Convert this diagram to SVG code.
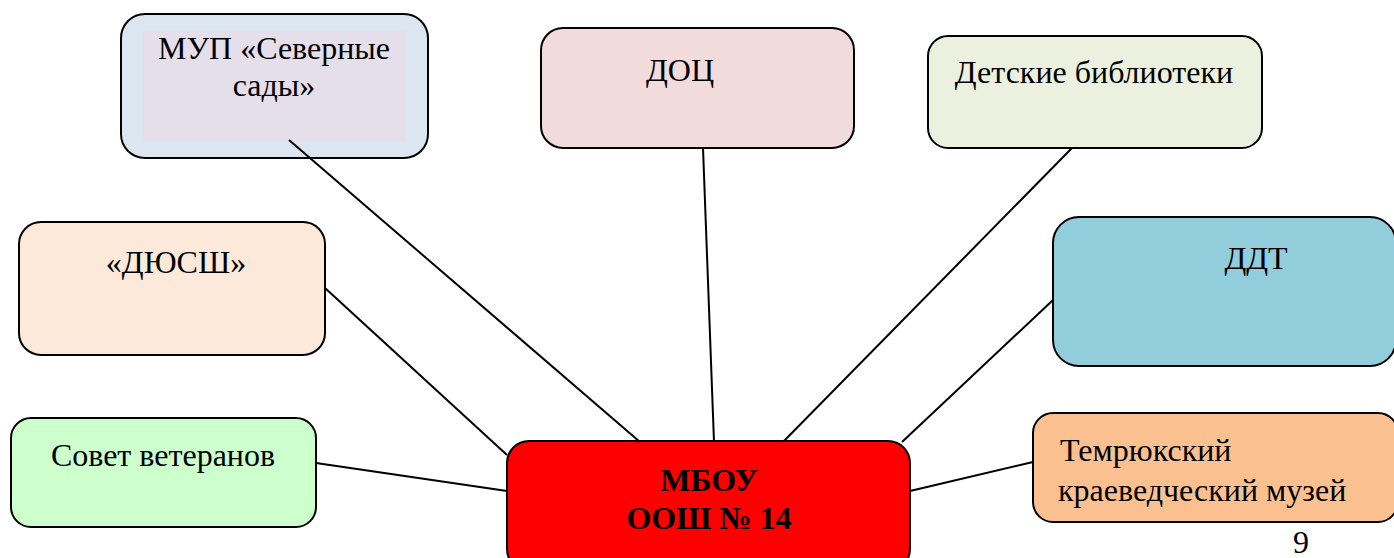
<svg xmlns="http://www.w3.org/2000/svg" width="1394" height="558" viewBox="0 0 1394 558">
<style>
.box{stroke:#000;stroke-width:2}
.t{font-family:"Liberation Serif","Times New Roman",serif;font-size:32px;fill:#000}
.b{font-weight:bold}
.c line{stroke:#000;stroke-width:2}
</style>
<rect width="1394" height="558" fill="#fff"/>
<g id="mup">
<rect class="box" x="121" y="14" width="307" height="144" rx="24" fill="#dce6f1"/>
<rect x="143" y="31" width="263" height="110" fill="#e5dfec"/>
<text class="t" x="274" y="59" text-anchor="middle">МУП «Северные</text>
<text class="t" x="274" y="96" text-anchor="middle">сады»</text>
</g>
<g id="doc">
<rect class="box" x="541" y="28" width="313" height="120" rx="22" fill="#f2dcdb"/>
<text class="t" x="680" y="81" text-anchor="middle">ДОЦ</text>
</g>
<g id="lib">
<rect class="box" x="928" y="36" width="334" height="112" rx="20" fill="#ebf1de"/>
<text class="t" x="1094" y="83" text-anchor="middle">Детские библиотеки</text>
</g>
<g id="dyussh">
<rect class="box" x="19" y="222" width="306" height="133" rx="22" fill="#fde9d9"/>
<text class="t" x="176" y="273" text-anchor="middle">«ДЮСШ»</text>
</g>
<g id="ddt">
<rect class="box" x="1053" y="217" width="343" height="149" rx="26" fill="#92cddc"/>
<text class="t" x="1256" y="269" text-anchor="middle">ДДТ</text>
</g>
<g id="sovet">
<rect class="box" x="11" y="418" width="305" height="109" rx="20" fill="#ccffcc"/>
<text class="t" x="163" y="466" text-anchor="middle">Совет ветеранов</text>
</g>
<g id="muzey">
<rect class="box" x="1033" y="413" width="365" height="109" rx="20" fill="#fac090"/>
<text class="t" x="1060" y="461">Темрюкский</text>
<text class="t" x="1058" y="501">краеведческий музей</text>
</g>
<g id="mbou">
<rect class="box" x="507" y="441" width="403" height="130" rx="22" fill="#ff0000"/>
<text class="t b" x="709" y="491" text-anchor="middle">МБОУ</text>
<text class="t b" x="709" y="529" text-anchor="middle">ООШ № 14</text>
</g>
<g class="c" id="connectors">
<line x1="289" y1="140" x2="640" y2="442"/>
<line x1="703" y1="148" x2="714" y2="442"/>
<line x1="1072" y1="148" x2="783" y2="442"/>
<line x1="325" y1="288" x2="507" y2="455"/>
<line x1="1053" y1="300" x2="902" y2="442"/>
<line x1="316" y1="463" x2="507" y2="491"/>
<line x1="1033" y1="462" x2="910" y2="491"/>
</g>
<text class="t" x="1301" y="553" text-anchor="middle" font-size="28">9</text>
</svg>
